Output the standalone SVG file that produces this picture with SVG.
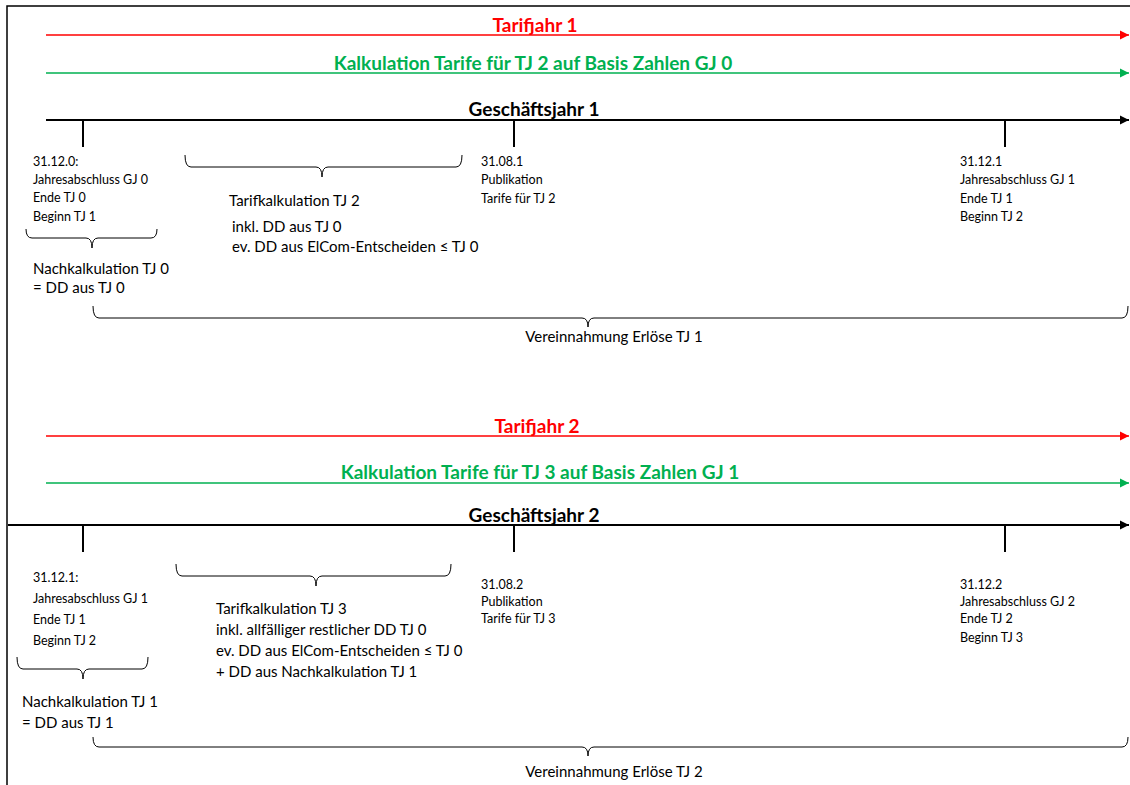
<svg xmlns="http://www.w3.org/2000/svg" width="1130" height="785" viewBox="0 0 1130 785">
<style>
.t{font-family:Lato,"Liberation Sans",sans-serif;fill:#000}
.s{font-size:12.5px}
.m{font-size:15px}
.b{font-size:19px;font-weight:bold;text-anchor:middle}
.red{fill:#FF0000}
.grn{fill:#00B050}
.axR{stroke:#FF0000;stroke-width:1.5;fill:none}
.axG{stroke:#00B050;stroke-width:1.5;fill:none}
.axK{stroke:#000;stroke-width:2;fill:none}
.tick{stroke:#000;stroke-width:2}
.brace{stroke:#000;stroke-width:1;fill:none}
.frame{stroke:#000;stroke-width:1.5;fill:none}
</style>
<defs>
<marker id="ar" markerUnits="userSpaceOnUse" markerWidth="10" markerHeight="10" refX="9" refY="5" orient="auto"><path d="M0,0.5 L9,5 L0,9.5 Z" fill="#FF0000"/></marker>
<marker id="ag" markerUnits="userSpaceOnUse" markerWidth="10" markerHeight="10" refX="9" refY="5" orient="auto"><path d="M0,0.5 L9,5 L0,9.5 Z" fill="#00B050"/></marker>
<marker id="ak" markerUnits="userSpaceOnUse" markerWidth="10" markerHeight="10" refX="9" refY="5" orient="auto"><path d="M0,0.5 L9,5 L0,9.5 Z" fill="#000"/></marker>
</defs>
<rect width="1130" height="785" fill="#fff"/>
<g id="frame"><path class="frame" d="M7,785 V6 H1130"/></g>
<g id="connectors">
<line class="axR" x1="46" y1="35" x2="1129" y2="35" marker-end="url(#ar)"/>
<line class="axG" x1="46" y1="73" x2="1129" y2="73" marker-end="url(#ag)"/>
<line class="axK" x1="46" y1="120" x2="1129" y2="120" marker-end="url(#ak)"/>
<line class="tick" x1="83" y1="120" x2="83" y2="147"/>
<line class="tick" x1="514" y1="120" x2="514" y2="147"/>
<line class="tick" x1="1005" y1="120" x2="1005" y2="147"/>
<path class="brace" d="M185,155 Q185,167 191,167 H316 Q322,167 322,177 Q322,167 328,167 H456 Q462,167 462,155"/>
<path class="brace" d="M26,229 Q26,238 32,238 H86 Q92,238 92,248 Q92,238 98,238 H151 Q157,238 157,229"/>
<path class="brace" d="M93,306 Q93,318 99,318 H582 Q588,318 588,327 Q588,318 594,318 H1122 Q1128,318 1128,306"/>
<line class="axR" x1="46" y1="436" x2="1129" y2="436" marker-end="url(#ar)"/>
<line class="axG" x1="46" y1="483" x2="1129" y2="483" marker-end="url(#ag)"/>
<line class="axK" x1="8" y1="525" x2="1129" y2="525" marker-end="url(#ak)"/>
<line class="tick" x1="83" y1="525" x2="83" y2="552"/>
<line class="tick" x1="514" y1="525" x2="514" y2="552"/>
<line class="tick" x1="1005" y1="525" x2="1005" y2="552"/>
<path class="brace" d="M176,564 Q176,576 182,576 H310 Q316,576 316,586 Q316,576 322,576 H445 Q451,576 451,564"/>
<path class="brace" d="M17,657 Q17,669 23,669 H77 Q83,669 83,679 Q83,669 89,669 H142 Q148,669 148,657"/>
<path class="brace" d="M93,737 Q93,747 99,747 H582 Q588,747 588,756 Q588,747 594,747 H1122 Q1128,747 1128,737"/>
</g>
<g id="title-tj1"><text class="t b red" x="535" y="32">Tarifjahr 1</text></g>
<g id="title-kalk1"><text class="t b grn" x="533" y="70">Kalkulation Tarife für TJ 2 auf Basis Zahlen GJ 0</text></g>
<g id="title-gj1"><text class="t b" x="534" y="116">Geschäftsjahr 1</text></g>
<g id="n-3112-0"><text class="t s" x="33" y="166">31.12.0:</text><text class="t s" x="33" y="184">Jahresabschluss GJ 0</text><text class="t s" x="33" y="202">Ende TJ 0</text><text class="t s" x="33" y="221">Beginn TJ 1</text></g>
<g id="n-tarifkalk2"><text class="t m" x="229" y="206">Tarifkalkulation TJ 2</text><text class="t m" x="232" y="232">inkl. DD aus TJ 0</text><text class="t m" x="232" y="252">ev. DD aus ElCom-Entscheiden ≤ TJ 0</text></g>
<g id="n-3108-1"><text class="t s" x="481" y="166">31.08.1</text><text class="t s" x="481" y="184">Publikation</text><text class="t s" x="481" y="203">Tarife für TJ 2</text></g>
<g id="n-3112-1"><text class="t s" x="960" y="166">31.12.1</text><text class="t s" x="960" y="184">Jahresabschluss GJ 1</text><text class="t s" x="960" y="203">Ende TJ 1</text><text class="t s" x="960" y="221">Beginn TJ 2</text></g>
<g id="n-nachkalk0"><text class="t m" x="33" y="274">Nachkalkulation TJ 0</text><text class="t m" x="33" y="293">= DD aus TJ 0</text></g>
<g id="n-verein1"><text class="t m" x="614" y="342" text-anchor="middle">Vereinnahmung Erlöse TJ 1</text></g>
<g id="title-tj2"><text class="t b red" x="537" y="433">Tarifjahr 2</text></g>
<g id="title-kalk2"><text class="t b grn" x="540" y="479">Kalkulation Tarife für TJ 3 auf Basis Zahlen GJ 1</text></g>
<g id="title-gj2"><text class="t b" x="534" y="522">Geschäftsjahr 2</text></g>
<g id="n-3112-1b"><text class="t s" x="33" y="582">31.12.1:</text><text class="t s" x="33" y="603">Jahresabschluss GJ 1</text><text class="t s" x="33" y="624">Ende TJ 1</text><text class="t s" x="33" y="645">Beginn TJ 2</text></g>
<g id="n-tarifkalk3"><text class="t m" x="216" y="614">Tarifkalkulation TJ 3</text><text class="t m" x="216" y="635">inkl. allfälliger restlicher DD TJ 0</text><text class="t m" x="216" y="656">ev. DD aus ElCom-Entscheiden ≤ TJ 0</text><text class="t m" x="216" y="677">+ DD aus Nachkalkulation TJ 1</text></g>
<g id="n-3108-2"><text class="t s" x="481" y="589">31.08.2</text><text class="t s" x="481" y="606">Publikation</text><text class="t s" x="481" y="623">Tarife für TJ 3</text></g>
<g id="n-3112-2"><text class="t s" x="960" y="589">31.12.2</text><text class="t s" x="960" y="606">Jahresabschluss GJ 2</text><text class="t s" x="960" y="623">Ende TJ 2</text><text class="t s" x="960" y="642">Beginn TJ 3</text></g>
<g id="n-nachkalk1"><text class="t m" x="22" y="707">Nachkalkulation TJ 1</text><text class="t m" x="22" y="728">= DD aus TJ 1</text></g>
<g id="n-verein2"><text class="t m" x="614" y="777" text-anchor="middle">Vereinnahmung Erlöse TJ 2</text></g>
</svg>
